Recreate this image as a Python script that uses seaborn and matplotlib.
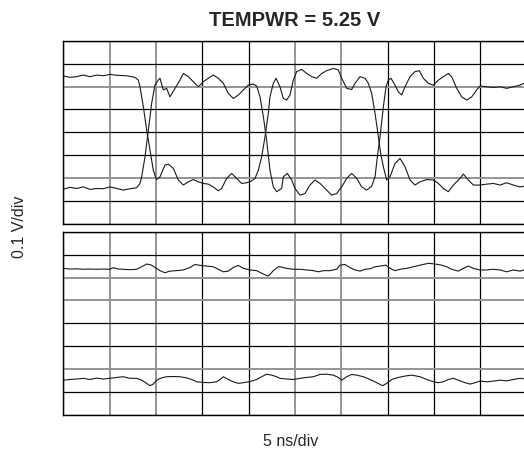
import matplotlib
matplotlib.use("Agg")
import matplotlib.pyplot as plt
import seaborn as sns
import pandas as pd

TITLE = "TEMPWR = 5.25 V"
XLABEL = "5 ns/div"
YLABEL = "0.1 V/div"
N_XDIV = 10
N_YDIV = 8

# Top panel, trace starting high (time in divisions, level in divisions)
a_t = [0.000, 0.144, 0.288, 0.432, 0.576, 0.719, 0.863, 1.007, 1.151, 1.367, 1.547, 1.619, 1.655,
       1.727, 1.799, 1.871, 1.942, 2.000, 2.014, 2.086, 2.194, 2.266, 2.374, 2.482, 2.590, 2.698,
       2.806, 2.914, 3.022, 3.129, 3.237, 3.345, 3.417, 3.525, 3.633, 3.741, 3.849, 3.957, 4.029,
       4.137, 4.209, 4.281, 4.353, 4.424, 4.460, 4.532, 4.590, 4.676, 4.748, 4.820, 4.892, 4.964,
       5.036, 5.144, 5.252, 5.360, 5.468, 5.576, 5.683, 5.827, 5.935, 6.007, 6.115, 6.223, 6.295,
       6.403, 6.511, 6.583, 6.655, 6.727, 6.799, 6.849, 6.907, 6.978, 7.050, 7.158, 7.266, 7.374,
       7.482, 7.590, 7.698, 7.842, 7.986, 8.094, 8.201, 8.309, 8.417, 8.561, 8.633, 8.741, 8.849,
       8.993, 9.137, 9.281, 9.424, 9.568, 9.712, 9.856, 9.942]
a_v = [6.46, 6.40, 6.43, 6.50, 6.43, 6.50, 6.47, 6.53, 6.49, 6.47, 6.40, 6.28, 5.99,
       5.12, 4.10, 3.23, 2.35, 1.99, 1.94, 2.06, 2.57, 2.61, 2.43, 1.92, 1.70, 1.84,
       1.94, 1.84, 1.77, 1.74, 1.62, 1.45, 1.55, 1.99, 2.21, 1.99, 1.77, 1.80, 1.84,
       1.99, 2.35, 2.93, 3.81, 4.83, 5.55, 6.14, 6.36, 5.99, 5.48, 5.41, 5.63, 6.28,
       6.65, 6.75, 6.57, 6.43, 6.36, 6.57, 6.69, 6.79, 6.72, 6.36, 5.92, 5.87, 6.14,
       6.43, 6.36, 6.14, 5.70, 4.83, 3.81, 3.08, 2.50, 1.92, 2.06, 2.64, 2.86, 2.50,
       1.92, 1.70, 1.84, 1.94, 1.92, 1.77, 1.55, 1.41, 1.70, 1.99, 2.18, 1.92, 1.70,
       1.70, 1.74, 1.77, 1.70, 1.80, 1.70, 1.62, 1.65]

# Top panel, trace starting low
b_t = [0.000, 0.144, 0.288, 0.432, 0.576, 0.719, 0.863, 1.007, 1.151, 1.295, 1.439, 1.583, 1.655,
       1.691, 1.763, 1.835, 1.906, 1.978, 2.050, 2.086, 2.158, 2.230, 2.302, 2.410, 2.518, 2.590,
       2.698, 2.806, 2.914, 3.022, 3.129, 3.237, 3.345, 3.453, 3.561, 3.669, 3.777, 3.885, 3.993,
       4.101, 4.173, 4.245, 4.317, 4.388, 4.460, 4.532, 4.604, 4.712, 4.748, 4.835, 4.928, 5.000,
       5.108, 5.216, 5.324, 5.432, 5.540, 5.683, 5.791, 5.899, 6.007, 6.115, 6.223, 6.331, 6.439,
       6.547, 6.655, 6.727, 6.777, 6.835, 6.907, 6.964, 7.014, 7.072, 7.158, 7.230, 7.302, 7.374,
       7.482, 7.590, 7.683, 7.770, 7.878, 7.986, 8.094, 8.201, 8.309, 8.381, 8.489, 8.597, 8.705,
       8.813, 8.921, 8.993, 9.137, 9.281, 9.424, 9.568, 9.712, 9.856, 9.942]
b_v = [1.52, 1.60, 1.55, 1.62, 1.51, 1.55, 1.54, 1.62, 1.55, 1.48, 1.54, 1.58, 1.77,
       2.06, 2.93, 4.10, 5.26, 6.06, 6.28, 6.36, 5.85, 5.92, 5.55, 5.92, 6.28, 6.57,
       6.43, 6.21, 5.99, 6.21, 6.36, 6.50, 6.36, 6.14, 5.70, 5.48, 5.63, 5.85, 6.06,
       6.11, 6.02, 5.55, 4.68, 3.66, 2.35, 1.62, 1.41, 1.55, 2.06, 2.21, 1.92, 1.55,
       1.26, 1.33, 1.70, 1.92, 1.77, 1.48, 1.26, 1.33, 1.62, 1.99, 2.21, 1.99, 1.62,
       1.48, 1.65, 2.06, 2.93, 3.81, 5.12, 5.99, 6.28, 6.36, 6.06, 5.77, 5.63, 5.99,
       6.43, 6.65, 6.69, 6.36, 6.14, 6.06, 6.28, 6.43, 6.57, 6.43, 5.92, 5.55, 5.41,
       5.55, 5.85, 6.02, 5.99, 5.96, 5.99, 5.92, 5.99, 6.06, 6.14]

# Bottom panel, upper trace
c_t = [0.000, 0.144, 0.288, 0.432, 0.576, 0.719, 0.863, 1.007, 1.079, 1.187, 1.295, 1.439, 1.583,
       1.691, 1.799, 1.906, 1.978, 2.086, 2.194, 2.302, 2.446, 2.590, 2.734, 2.842, 2.950, 3.094,
       3.237, 3.345, 3.453, 3.561, 3.669, 3.777, 3.885, 4.029, 4.173, 4.317, 4.424, 4.532, 4.640,
       4.676, 4.820, 4.964, 5.108, 5.252, 5.396, 5.504, 5.612, 5.755, 5.899, 5.971, 6.079, 6.187,
       6.295, 6.403, 6.511, 6.619, 6.727, 6.835, 6.964, 7.050, 7.158, 7.266, 7.410, 7.554, 7.698,
       7.878, 8.022, 8.165, 8.273, 8.381, 8.525, 8.633, 8.741, 8.849, 8.993, 9.137, 9.281, 9.424,
       9.568, 9.712, 9.856, 9.942]
c_v = [6.40, 6.37, 6.38, 6.36, 6.37, 6.36, 6.37, 6.36, 6.43, 6.37, 6.36, 6.34, 6.36,
       6.47, 6.59, 6.54, 6.44, 6.30, 6.21, 6.28, 6.30, 6.33, 6.44, 6.57, 6.53, 6.50,
       6.47, 6.36, 6.25, 6.28, 6.44, 6.53, 6.40, 6.33, 6.30, 6.15, 6.06, 6.30, 6.47,
       6.47, 6.40, 6.36, 6.36, 6.33, 6.30, 6.25, 6.30, 6.30, 6.36, 6.54, 6.57, 6.43,
       6.33, 6.28, 6.36, 6.38, 6.47, 6.50, 6.54, 6.40, 6.30, 6.36, 6.40, 6.47, 6.54,
       6.62, 6.59, 6.54, 6.47, 6.36, 6.28, 6.40, 6.50, 6.40, 6.33, 6.33, 6.36, 6.33,
       6.25, 6.33, 6.28, 6.33]

# Bottom panel, lower trace
d_t = [0.000, 0.144, 0.288, 0.432, 0.576, 0.719, 0.863, 1.007, 1.151, 1.295, 1.439, 1.583, 1.691,
       1.799, 1.871, 1.942, 2.014, 2.122, 2.230, 2.374, 2.518, 2.662, 2.770, 2.878, 3.022, 3.165,
       3.309, 3.381, 3.453, 3.561, 3.669, 3.777, 3.885, 4.029, 4.173, 4.281, 4.388, 4.496, 4.604,
       4.676, 4.820, 4.964, 5.108, 5.252, 5.396, 5.540, 5.683, 5.827, 5.935, 6.007, 6.115, 6.223,
       6.331, 6.475, 6.619, 6.763, 6.892, 6.978, 7.086, 7.230, 7.374, 7.518, 7.698, 7.842, 7.986,
       8.094, 8.201, 8.309, 8.417, 8.525, 8.669, 8.777, 8.885, 8.993, 9.137, 9.281, 9.424, 9.568,
       9.712, 9.856, 9.942]
d_v = [1.52, 1.55, 1.57, 1.60, 1.55, 1.61, 1.57, 1.60, 1.64, 1.67, 1.60, 1.60, 1.52,
       1.38, 1.28, 1.35, 1.52, 1.62, 1.67, 1.68, 1.67, 1.62, 1.55, 1.45, 1.42, 1.41,
       1.45, 1.55, 1.67, 1.55, 1.45, 1.38, 1.41, 1.46, 1.55, 1.67, 1.78, 1.74, 1.67,
       1.60, 1.57, 1.55, 1.60, 1.64, 1.67, 1.77, 1.78, 1.74, 1.64, 1.52, 1.67, 1.77,
       1.74, 1.67, 1.55, 1.41, 1.28, 1.38, 1.55, 1.64, 1.70, 1.74, 1.67, 1.55, 1.45,
       1.41, 1.45, 1.55, 1.60, 1.52, 1.41, 1.35, 1.41, 1.48, 1.45, 1.48, 1.52, 1.49,
       1.55, 1.60, 1.58]

sns.set_style("white")
plt.rcParams['font.family'] = ['Liberation Sans', 'DejaVu Sans']

W, H = 524, 455
fig = plt.figure(figsize=(W / 100, H / 100), dpi=100)
left = 63.3 / W
width = 463.4 / W
ph = 183.3 / H
ax_top = fig.add_axes([left, (H - 224.0) / H, width, ph])
ax_bot = fig.add_axes([left, (H - 415.0) / H, width, ph])

top_df = pd.concat([
    pd.DataFrame({"t": a_t, "v": a_v, "trace": "A"}),
    pd.DataFrame({"t": b_t, "v": b_v, "trace": "B"}),
])
bot_df = pd.concat([
    pd.DataFrame({"t": c_t, "v": c_v, "trace": "C"}),
    pd.DataFrame({"t": d_t, "v": d_v, "trace": "D"}),
])

gray_x = {1, 2, 5, 6}
gray_y = {"top": {2, 6}, "bot": {2, 5, 6}}

for ax, df, key in [(ax_top, top_df, "top"), (ax_bot, bot_df, "bot")]:
    sns.lineplot(data=df, x="t", y="v", units="trace", estimator=None, sort=False,
                 color="#1a1a1a", linewidth=0.8, ax=ax, legend=False)
    ax.set_xlim(0, N_XDIV)
    ax.set_ylim(0, N_YDIV)
    ax.set_xticks(range(N_XDIV + 1))
    ax.set_yticks(range(N_YDIV + 1))
    ax.tick_params(length=0, labelbottom=False, labelleft=False)
    ax.set_xlabel("")
    ax.set_ylabel("")
    ax.grid(True, color="black", linewidth=0.9)
    ax.set_axisbelow(True)
    for i, gl in enumerate(ax.get_xgridlines()):
        if i in gray_x:
            gl.set_color("#949494")
            gl.set_linewidth(1.4)
    for i, gl in enumerate(ax.get_ygridlines()):
        if i in gray_y[key]:
            gl.set_color("#949494")
            gl.set_linewidth(1.4)
    for s in ax.spines.values():
        s.set_color("black")
        s.set_linewidth(1.0)

fig.text(295 / W, 1 - 26 / H, TITLE, ha="center", va="baseline",
         fontsize=14.5, fontweight="bold")
fig.text(291 / W, 1 - 441 / H, XLABEL, ha="center", va="center", fontsize=11.5)
fig.text(19 / W, 1 - 227 / H, YLABEL, ha="center", va="center", fontsize=11.5, rotation=90)

fig.savefig("out.png", dpi=100)
